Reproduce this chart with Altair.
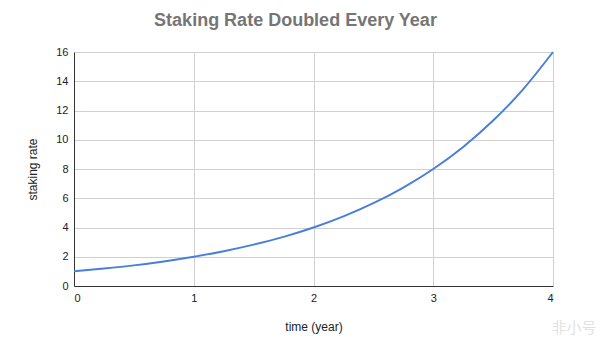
import altair as alt
import pandas as pd

# values
years = [0, 0.25, 0.5, 0.75, 1, 1.25, 1.5, 1.75, 2, 2.25, 2.5, 2.75, 3, 3.25, 3.5, 3.75, 4]
rates = [1.0, 1.19, 1.41, 1.68, 2.0, 2.38, 2.83, 3.36, 4.0, 4.76, 5.66, 6.73, 8.0, 9.51, 11.31, 13.45, 16.0]
x_ticks = [0, 1, 2, 3, 4]
y_ticks = [0, 2, 4, 6, 8, 10, 12, 14, 16]

df = pd.DataFrame({"year": years, "rate": rates})

FONT = "Liberation Sans"

line = alt.Chart(df).mark_line(color="#4a7fd9", strokeWidth=2, interpolate="monotone").encode(
    x=alt.X("year:Q", scale=alt.Scale(domain=[0, 4], nice=False),
            axis=alt.Axis(values=x_ticks, format="d", title="time (year)",
                          grid=True, gridColor="#d0d0d0", ticks=False,
                          domainColor="#333333", labelColor="#222222", labelFontSize=11,
                          labelPadding=6, labelFont=FONT, titleFont=FONT,
                          titleFontSize=12, titleFontWeight="normal", titleColor="#222222",
                          titleY=40, titleBaseline="middle")),
    y=alt.Y("rate:Q", scale=alt.Scale(domain=[0, 16], nice=False),
            axis=alt.Axis(values=y_ticks, title="staking rate",
                          grid=True, gridColor="#d0d0d0", ticks=False,
                          domainColor="#333333", labelColor="#222222", labelFontSize=11,
                          labelPadding=6, labelFont=FONT, titleFont=FONT,
                          titleFontSize=12, titleFontWeight="normal", titleColor="#222222",
                          titleX=-42, titleY=117, titleAngle=270, titleBaseline="middle",
                          titleAlign="center")),
)

wm = alt.Chart(pd.DataFrame({"t": ["非小号"]})).mark_text(
    font="Noto Sans CJK SC", fontSize=15, color="#e2e2e2", align="center", baseline="middle"
).encode(text="t:N", x=alt.value(500), y=alt.value(276))

chart = (line + wm).properties(
    width=479, height=234,
    title=alt.TitleParams("Staking Rate Doubled Every Year", font=FONT, fontSize=18,
                          fontWeight="bold", color="#757575", anchor="middle", dx=-18, offset=16),
    padding={"left": 74, "top": 52, "right": 49, "bottom": 58},
    autosize=alt.AutoSizeParams(type="none"),
).configure_view(stroke=None)

chart.save("out.html", embed_options={"renderer": "svg", "actions": False})
